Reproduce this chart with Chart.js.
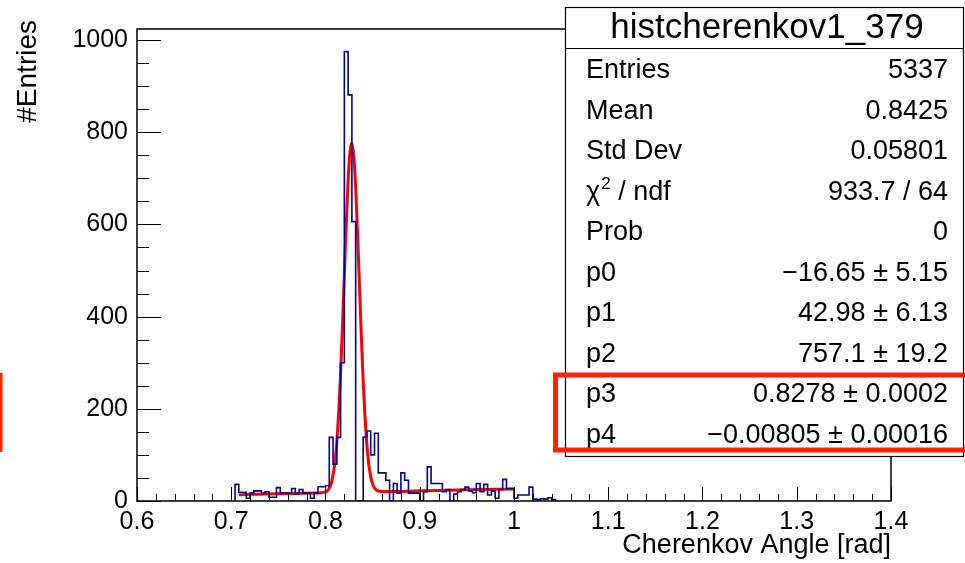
<!DOCTYPE html>
<html><head><meta charset="utf-8">
<script src="https://cdn.jsdelivr.net/npm/chart.js@4.4.1/dist/chart.umd.min.js"></script>
<style>html,body{margin:0;padding:0;background:#fff;}canvas{display:block}</style>
</head><body>
<canvas id="c" width="965" height="563"></canvas>
<script>
// ---- data ----
const binLow = 0.704;      // left edge of first filled bin
const binWidth = 0.004;    // histogram bin width
const counts = [36,19,19,6,17,22,22,17,20,8,8,29,17,17,17,27,15,25,17,17,6,17,31,31,33,
  138,80,138,300,975,881,606,0,0,
  139,152,100,147,61,61,45,0,38,17,61,45,17,17,17,0,20,74,38,38,38,20,25,0,15,20,25,30,22,18,38,20,36,13,22,6,25,47,27,27,
  6,13,13,13,30,4,3,5,4,7,3];
const fitX = [0.708,0.750,0.790,0.795,0.800,0.802,0.805,0.807,0.810,0.812,0.814,0.816,0.818,0.821,0.824,0.826,0.8278,0.830,0.832,0.835,0.838,0.840,0.842,0.844,0.846,0.848,0.850,0.852,0.855,0.860,0.865,0.900,0.950,1.000];
const fitY = [13.8,15.6,17.3,17.7,19.7,22.3,31.6,45.1,83.9,128.7,192.6,276.9,379.4,548.5,696.1,757.3,776.0,748.4,679.8,526.5,358.6,259.5,179.2,119.6,78.5,52.3,36.8,28.2,22.6,20.6,20.5,22.0,24.2,26.3];
const xRange = [0.6, 1.4];
const yRange = [0, 1024];
const xTitle = 'Cherenkov Angle [rad]';
const yTitle = '#Entries';
const statsTitle = 'histcherenkov1_379';
const statsNames = ['Entries','Mean','Std Dev','CHI2','Prob','p0','p1','p2','p3','p4'];
const statsValues = ['5337','0.8425','0.05801','933.7 / 64','0','\u221216.65 \u00b1 5.15','42.98 \u00b1 6.13','757.1 \u00b1 19.2','0.8278 \u00b1 0.0002','\u22120.00805 \u00b1 0.00016'];

// ---- build datasets ----
const histPts = [{x: binLow, y: 0}];
counts.forEach((c, i) => histPts.push({x: +(binLow + i * binWidth).toFixed(4), y: c}));
histPts.push({x: +(binLow + counts.length * binWidth).toFixed(4), y: 0});
const fitPts = fitX.map((x, i) => ({x, y: fitY[i]}));

const FONT = "'Liberation Sans', Arial, Helvetica, sans-serif";
const isMult = (v, s) => Math.abs(v / s - Math.round(v / s)) < 1e-6;

const rootPlugin = {
  id: 'rootStyle',
  afterDraw(chart) {
    const ctx = chart.ctx, a = chart.chartArea, xs = chart.scales.x, ys = chart.scales.y;
    ctx.save();
    ctx.strokeStyle = '#000';
    ctx.lineWidth = 1.5;
    ctx.beginPath();
    ctx.rect(a.left, a.top, a.right - a.left, a.bottom - a.top);
    ctx.stroke();
    ctx.lineWidth = 1;
    ctx.beginPath();
    xs.ticks.forEach(t => {
      const v = t.value;
      if (!isMult(v, 0.02)) return;
      const px = Math.round(xs.getPixelForValue(v)) + 0.5;
      const len = isMult(v, 0.1) ? 14 : 7;
      ctx.moveTo(px, a.bottom); ctx.lineTo(px, a.bottom - len);
    });
    ys.ticks.forEach(t => {
      const v = t.value;
      if (!isMult(v, 50)) return;
      const py = Math.round(ys.getPixelForValue(v)) + 0.5;
      const len = isMult(v, 200) ? 24 : 12;
      ctx.moveTo(a.left, py); ctx.lineTo(a.left + len, py);
    });
    ctx.stroke();

    // y axis title (ROOT puts it at the top end of the axis)
    ctx.save();
    ctx.translate(28, 20);
    ctx.rotate(-Math.PI / 2);
    ctx.fillStyle = '#000';
    ctx.font = '28px ' + FONT;
    ctx.textAlign = 'right';
    ctx.textBaseline = 'middle';
    ctx.fillText(yTitle, 0, 0);
    ctx.restore();

    // stats box
    const bx = 565, by = 7, bw = 398, bh = 449;
    ctx.fillStyle = '#fff';
    ctx.fillRect(bx, by, bw, bh);
    ctx.lineWidth = 1.2;
    ctx.strokeRect(bx + 0.5, by + 0.5, bw, bh);
    ctx.beginPath(); ctx.moveTo(bx, 48.5); ctx.lineTo(bx + bw, 48.5); ctx.stroke();
    ctx.fillStyle = '#000';
    ctx.textBaseline = 'middle';
    ctx.font = '35px ' + FONT;
    ctx.textAlign = 'center';
    ctx.fillText(statsTitle, 767, 28);
    ctx.font = '27px ' + FONT;
    statsNames.forEach((n, i) => {
      const y = 71 + 40.5 * i;
      ctx.textAlign = 'left';
      if (n === 'CHI2') {
        ctx.font = '27px ' + FONT;
        ctx.fillText('\u03c7', 586, y);
        let w = ctx.measureText('\u03c7').width;
        ctx.font = '17px ' + FONT;
        ctx.fillText('2', 586 + w + 1, y - 8);
        let w2 = ctx.measureText('2').width;
        ctx.font = '27px ' + FONT;
        ctx.fillText(' / ndf', 586 + w + w2 + 1, y);
      } else {
        ctx.fillText(n, 586, y);
      }
      ctx.textAlign = 'right';
      ctx.fillText(statsValues[i], 948, y);
    });

    // red highlight rectangles
    ctx.strokeStyle = '#ff2200';
    ctx.lineWidth = 5;
    ctx.strokeRect(555.5, 375, 430, 75);
    ctx.fillStyle = '#ff2200';
    ctx.fillRect(0, 373, 2.5, 79);
    ctx.restore();
  }
};

new Chart(document.getElementById('c'), {
  type: 'line',
  data: {
    datasets: [
      {data: histPts, stepped: 'before', borderColor: '#00009c', borderWidth: 1.6, pointRadius: 0, fill: false},
      {data: fitPts, borderColor: '#ff0000', borderWidth: 3, pointRadius: 0, fill: false, cubicInterpolationMode: 'monotone'}
    ]
  },
  options: {
    responsive: false,
    devicePixelRatio: 1,
    animation: false,
    events: [],
    layout: {padding: {left: 0, right: 74, top: 29, bottom: 0}},
    plugins: {legend: {display: false}, tooltip: {enabled: false}},
    scales: {
      x: {
        type: 'linear', min: xRange[0], max: xRange[1],
        grid: {display: false, drawTicks: false},
        border: {display: false},
        ticks: {stepSize: 0.02, autoSkip: false, maxRotation: 0, padding: 6, color: '#000',
          font: {family: FONT, size: 25},
          callback: v => isMult(v, 0.1) ? String(Math.round(v * 10) / 10) : ''},
        title: {display: true, text: xTitle, align: 'end', color: '#000', font: {family: FONT, size: 27}, padding: {top: 0, bottom: 1}},
        afterFit: s => { s.height = 62; }
      },
      y: {
        type: 'linear', min: yRange[0], max: yRange[1],
        grid: {display: false, drawTicks: false},
        border: {display: false},
        ticks: {stepSize: 50, autoSkip: false, includeBounds: false, padding: 9, color: '#000',
          font: {family: FONT, size: 25},
          callback: v => isMult(v, 200) ? String(v) : ''},
        title: {display: false, text: yTitle},
        afterFit: s => { s.width = 137; }
      }
    }
  },
  plugins: [rootPlugin]
});
</script>
</body></html>
